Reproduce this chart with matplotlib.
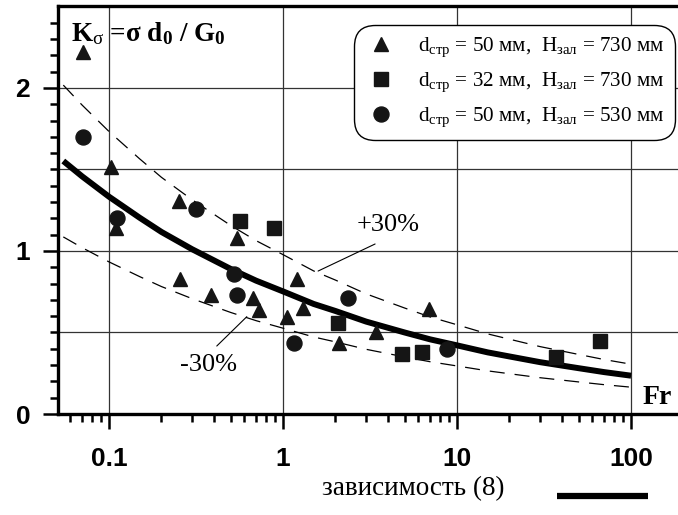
import matplotlib
matplotlib.use('Agg')
import matplotlib.pyplot as plt
from matplotlib.lines import Line2D
import numpy as np

plt.rcParams['mathtext.fontset'] = 'custom'
plt.rcParams['mathtext.rm'] = 'Liberation Serif'
plt.rcParams['mathtext.it'] = 'Liberation Serif:italic'
plt.rcParams['mathtext.bf'] = 'Liberation Serif:bold'

# данные
tri_fr = [0.071, 0.102, 0.110, 0.254, 0.546, 0.256, 0.384, 0.675, 0.731, 1.059, 1.199, 1.298, 2.10, 3.41, 6.93]
tri_k = [2.22, 1.517, 1.143, 1.309, 1.082, 0.826, 0.730, 0.710, 0.638, 0.597, 0.826, 0.648, 0.434, 0.505, 0.642]

sq_fr = [0.569, 0.888, 2.08, 4.81, 6.27, 37.1, 66.4]
sq_k = [1.186, 1.143, 0.560, 0.366, 0.382, 0.352, 0.450]

circ_fr = [0.071, 0.1116, 0.315, 0.523, 0.546, 1.157, 2.37, 8.80]
circ_k = [1.70, 1.204, 1.258, 0.859, 0.730, 0.437, 0.714, 0.397]

# зависимость (8)
curve_fr = [0.0546, 0.07, 0.1, 0.15, 0.2, 0.3, 0.5, 0.7, 1, 1.5, 2, 3, 5, 7, 10, 15, 20, 30, 50, 70, 100]
curve_k = [1.552, 1.458, 1.333, 1.204, 1.117, 1.011, 0.89, 0.818, 0.752, 0.675, 0.632, 0.567,
           0.50, 0.458, 0.421, 0.378, 0.353, 0.318, 0.281, 0.257, 0.235]

labels = [r'd$_{\mathrm{стр}}$ = 50 мм,  H$_{\mathrm{зал}}$ = 730 мм',
          r'd$_{\mathrm{стр}}$ = 32 мм,  H$_{\mathrm{зал}}$ = 730 мм',
          r'd$_{\mathrm{стр}}$ = 50 мм,  H$_{\mathrm{зал}}$ = 530 мм']

W, H = 678, 515
fig = plt.figure(figsize=(W / 100, H / 100), dpi=100)
ax = fig.add_axes([58 / W, 101 / H, 620 / W, 408 / H])

ax.set_xscale('log')
ax.set_xlim(0.0509, 186)
ax.set_ylim(0, 2.503)

# сетка
for gx in [0.1, 1, 10, 100]:
    ax.axvline(gx, color='#333333', lw=0.9, zorder=1)
for gy in [0.5, 1, 1.5, 2]:
    ax.axhline(gy, color='#333333', lw=0.9, zorder=1)

curve_k = np.array(curve_k)
ax.plot(curve_fr, curve_k, color='black', lw=4.3, solid_capstyle='butt', zorder=3)
ax.plot(curve_fr, curve_k * 1.3, color='black', lw=0.9, dashes=(12, 8), zorder=2)
ax.plot(curve_fr, curve_k * 0.7, color='black', lw=0.9, dashes=(12, 8), zorder=2)

mc = '#151515'
h1, = ax.plot(tri_fr, tri_k, '^', color=mc, ms=10, ls='none', zorder=4)
h2, = ax.plot(sq_fr, sq_k, 's', color=mc, ms=10.5, ls='none', zorder=4)
h3, = ax.plot(circ_fr, circ_k, 'o', color=mc, ms=10.8, ls='none', zorder=4)

leg = ax.legend([h1, h2, h3], labels, loc='upper right',
                bbox_to_anchor=(675 / W, 1 - 25 / H), bbox_transform=fig.transFigure,
                borderaxespad=0, prop={'family': 'Liberation Serif', 'size': 15.2},
                handletextpad=0.95, handlelength=1.6, labelspacing=0.55,
                borderpad=0.5, fancybox=True, framealpha=1)
fr = leg.get_frame()
fr.set_edgecolor('black')
fr.set_linewidth(1.0)
fr.set_boxstyle('round,pad=0,rounding_size=1.0')

# подписи
ax.text(0.0605, 2.335, r'K$_{\mathrm{σ}}$ =σ d$_{\mathbf{0}}$ / G$_{\mathbf{0}}$',
        fontfamily='Liberation Serif', fontweight='bold', fontsize=19.5, va='center')
ax.text(141, 0.104, 'Fr', fontfamily='Liberation Serif', fontweight='bold',
        fontsize=20, ha='center', va='center')
ax.text(4.0, 1.16, '+30%', fontfamily='Liberation Serif', fontsize=19, ha='center', va='center')
ax.text(0.371, 0.30, '-30%', fontfamily='Liberation Serif', fontsize=19, ha='center', va='center')
ax.annotate('', xy=(1.59, 0.877), xytext=(3.38, 1.043),
            arrowprops=dict(arrowstyle='-', lw=0.8, color='black', shrinkA=0, shrinkB=0))
ax.annotate('', xy=(0.619, 0.597), xytext=(0.416, 0.417),
            arrowprops=dict(arrowstyle='-', lw=0.8, color='black', shrinkA=0, shrinkB=0))

# оси
for s in ['left', 'bottom', 'top']:
    ax.spines[s].set_linewidth(2.4)
ax.spines['right'].set_visible(False)

ax.set_xticks([0.1, 1, 10, 100])
ax.set_xticklabels(['0.1', '1', '10', '100'])
minor_x = [m * 10.0 ** e for e in [-2, -1, 0, 1] for m in range(2, 10)]
ax.set_xticks([v for v in minor_x if 0.0509 < v < 100], minor=True)
ax.set_xticklabels([], minor=True)
ax.set_yticks([0, 1, 2])
ax.set_yticklabels(['0', '1', '2'])
ax.set_yticks([i / 10 for i in range(1, 25) if i % 10], minor=True)

ax.tick_params(which='major', length=11, width=1.8, direction='out', labelsize=19)
ax.tick_params(which='minor', length=6, width=1.8, direction='out')
ax.tick_params(axis='x', which='major', pad=13)
ax.tick_params(axis='y', which='major', pad=9)
for lab in ax.get_xticklabels() + ax.get_yticklabels():
    lab.set_fontfamily('Liberation Sans')
    lab.set_fontweight('bold')

fig.text(413 / W, 1 - 489 / H, 'зависимость (8)', fontfamily='Liberation Serif',
         fontsize=19.5, ha='center', va='center')
fig.add_artist(Line2D([557 / W, 648 / W], [1 - 496 / H, 1 - 496 / H],
                      transform=fig.transFigure, color='black', lw=4.5, solid_capstyle='butt'))

fig.savefig('out.png', dpi=100)
